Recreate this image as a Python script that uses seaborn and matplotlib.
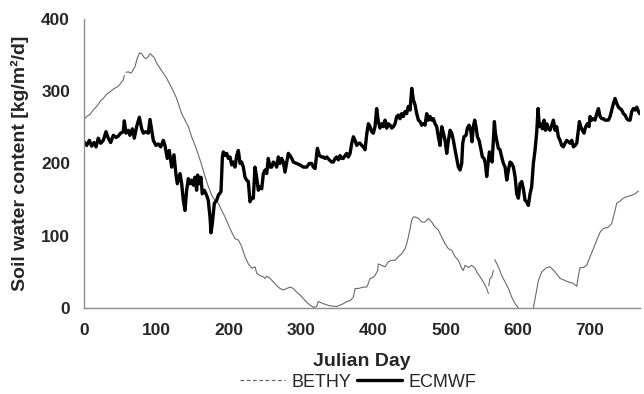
import numpy as np
import pandas as pd
import matplotlib
matplotlib.use("Agg")
import matplotlib.pyplot as plt
import seaborn as sns
from matplotlib.lines import Line2D

# ---------------- data ----------------
ecmwf_day = [0, 3.7, 7.4, 10.6, 13.8, 16.6, 19.8, 23.1, 26.7, 30.4, 33.6, 36.9, 40.6, 44.3,
             47.5, 50.7, 54.4, 55.8, 58.1, 61.3, 63.6, 66.9, 69.6, 72.8, 76.6, 79.8, 82.1, 85.3,
             89, 91.3, 93.6, 95.9, 99.6, 102.8, 106.1, 109.7, 112, 115.2, 118, 121.3, 124.5,
             127.3, 129.1, 132.8, 135.1, 137.4, 139.7, 142, 144.3, 146.6, 148.9, 151.2, 153.5,
             155.8, 157.2, 159.1, 161.8, 163.6, 166.4, 169.6, 171.9, 174.3, 175.7, 177.5, 180.3,
             183.5, 185.8, 189.5, 191.4, 192.7, 195, 197.4, 199.7, 202, 204.3, 206.6, 208.9,
             211.2, 213.5, 215.8, 218.1, 220.4, 222.7, 225, 227.3, 229.6, 232, 234.2, 236.5,
             238.8, 241.1, 243.5, 245.8, 248.1, 250.4, 252.7, 254.9, 257.3, 259.6, 261.9, 264.2,
             266.5, 268.8, 271.1, 273.4, 275.7, 278, 280.4, 282.6, 285, 287.3, 289.6, 294.2,
             298.8, 303.4, 308, 311.7, 315, 317.2, 319.6, 322.8, 325.6, 328.8, 331, 333.3,
             335.7, 339.3, 342.6, 344.9, 347.2, 349.5, 351.8, 354.1, 356.4, 358.7, 361, 363.3,
             365.6, 368, 370.3, 372.6, 374.9, 377.2, 379.5, 381.8, 384.1, 386.4, 388.7, 391,
             393.3, 395.6, 397.9, 400.2, 402.5, 404.8, 407.1, 409.4, 411.8, 414, 416.4, 418.7,
             421, 423.3, 425.6, 427.9, 430.2, 432.5, 434.8, 437.1, 439.4, 441.7, 444, 446.3,
             448.6, 451, 453.3, 455.6, 457.9, 460.2, 462.5, 464.8, 467.1, 469.4, 471.7, 474,
             476.3, 478.6, 480.9, 483.2, 485.5, 487.8, 490.1, 492.5, 494.8, 497.1, 499.4, 501.7,
             504, 506.3, 508.6, 510.9, 513.2, 515.5, 517.8, 520.1, 522.4, 523.8, 525.6, 528.4,
             530.2, 532.6, 534.9, 536.7, 538.5, 540.4, 542.2, 544.1, 546.4, 548.7, 551, 553.3,
             555.1, 557, 558.8, 560.7, 562.5, 564.4, 566.2, 567.6, 569, 570.8, 573.1, 575.4,
             577.7, 580.1, 582.4, 584.7, 587, 589.3, 591.6, 593.9, 596.2, 598.5, 600.8, 603.1,
             605.4, 607.7, 610, 612.3, 614.6, 616.9, 619.2, 621.5, 623.8, 626.2, 628, 629.8,
             631.7, 634, 636.3, 638.2, 640, 642.3, 644.6, 646.9, 649.2, 651.5, 653.8, 656.1,
             658.4, 660.7, 663, 665.3, 667.7, 670, 672.3, 674.6, 676.9, 679.2, 681.5, 683.8,
             685.2, 687, 689.3, 691.6, 693.9, 696.2, 698.5, 699.9, 702.2, 704.5, 706.8, 709.2,
             711.5, 713.8, 716.1, 718.4, 720.7, 723, 725.3, 727.6, 729.9, 732.2, 734.5, 736.8,
             739.1, 741.4, 743.7, 746, 748.3, 750.7, 753, 755.3, 757.6, 759.9, 762.2, 764.5,
             766.8, 768.5]
ecmwf_val = [230, 225, 232, 224, 229, 223, 235, 228, 232, 244, 235, 229, 239, 236,
             238, 242, 244, 259, 242, 246, 239, 248, 235, 251, 264, 248, 242, 244,
             242, 261, 246, 232, 225, 227, 223, 232, 225, 207, 218, 195, 212,
             184, 172, 186, 172, 149, 135, 163, 179, 172, 177, 170, 181,
             163, 184, 172, 181, 158, 163, 156, 149, 126, 104, 117, 145,
             149, 156, 161, 209, 216, 211, 214, 207, 209, 198, 202, 195,
             211, 218, 200, 202, 195, 181, 177, 175, 147, 152, 152, 195,
             181, 163, 168, 165, 186, 191, 186, 207, 195, 195, 202, 200,
             195, 209, 200, 207, 202, 188, 202, 214, 211, 207, 202, 200,
             198, 195, 195, 200, 200, 195, 193, 221, 211, 209, 209, 207,
             209, 205, 202, 202, 207, 209, 205, 211, 207, 207, 211, 214,
             209, 214, 228, 237, 232, 225, 228, 228, 225, 223, 219, 240,
             255, 251, 244, 242, 251, 276, 258, 249, 255, 251, 260, 249,
             255, 253, 249, 251, 255, 265, 267, 262, 269, 265, 272, 269,
             279, 274, 304, 288, 281, 269, 260, 258, 253, 255, 253, 269,
             260, 265, 260, 262, 255, 251, 237, 225, 251, 242, 232, 214,
             232, 246, 242, 232, 219, 207, 195, 191, 200, 228, 237, 239,
             249, 253, 246, 230, 251, 260, 251, 237, 232, 221, 209, 207,
             200, 182, 200, 216, 212, 202, 232, 258, 242, 232, 221, 219,
             209, 200, 195, 177, 191, 202, 200, 195, 182, 158, 152, 172,
             175, 165, 149, 147, 142, 158, 168, 200, 218, 244, 276, 251,
             255, 248, 260, 246, 255, 248, 246, 253, 260, 246, 251, 237,
             232, 225, 223, 228, 232, 230, 228, 232, 223, 225, 228, 246,
             258, 251, 246, 242, 251, 255, 251, 265, 260, 262, 260, 269,
             276, 265, 262, 262, 260, 260, 260, 265, 274, 283, 290, 283,
             278, 276, 274, 269, 267, 262, 260, 260, 272, 276, 274, 278,
             272, 269]

bethy_day = [0, 3.7, 8.3, 12.9, 16.6, 19.8, 23.1, 26.7, 31.4, 36, 40.6, 44.3, 47.5, 50.7,
             54.4, 55.8,
             58.1, 61.3, 63.6, 65.9, 68.2, 70.6, 72.9, 76.6, 79.8, 83, 85.8, 89, 91.3, 93.6,
             96.8, 100.5, 105.1, 109.7, 114.4, 119, 123.6, 128.2, 130.5, 135.1, 139.7, 144.3,
             148.9, 153.6, 158.2, 162.8, 167.4, 172, 176.6, 181.2, 185.8, 190.5, 195.1, 199.7,
             204.3, 208.9, 213.5, 218.1, 222.7, 227.3, 232, 236.6, 238.9, 243.5, 248.1, 250.4,
             252.7, 257.3, 261.9, 266.5, 271.1, 275.7, 280.4, 285, 289.6, 294.2, 298.8, 303.4,
             308, 312.6, 317.2, 321.9, 324, 331, 340, 350, 358.7, 363.3, 368, 372.6, 374.9,
             379.5, 386.4, 391, 393.3, 395.6, 397.9, 402.5, 406.2, 407.1, 411.8, 416.4, 421,
             425.6, 430.2, 434.8, 439.4, 444, 446.3, 448.6, 451, 453.3, 455.6, 457.9, 462.5,
             467.1, 471.7, 476.3, 480.9, 485.5, 490.1, 494.8, 499.4, 504, 508.6, 513.2, 517.8,
             522.4, 524.7, 527, 531.6, 536.2, 540.9, 543.2, 547.8, 552.4, 557, 559.3,
             559.8, 561.6, 563.9, 566.2,
             568.1, 573.1, 577.7, 582.4, 587, 591.6, 596.2, 600.8,
             621.5, 628.5, 633.1, 640, 644.6, 651.5, 658.4, 665.3, 670, 676.9, 681.5, 683.8,
             686.1, 690.7, 695.3, 699.9, 704.5, 709.2, 713.8, 718.4, 725.3, 729.9, 734.5,
             736.8, 741.4, 746, 750.7, 757.6, 762.2, 766.8]
bethy_val = [261, 265, 268, 274, 278, 282, 287, 290, 296, 299, 303, 305, 307, 311,
             316, 322,
             326, 327, 325, 326, 330, 334, 343, 353, 352, 347, 345, 348, 352, 350,
             347, 339, 332, 325, 318, 309, 300, 290, 283, 269, 260, 251,
             237, 225, 212, 198, 182, 168, 156, 149, 145, 135, 126, 115,
             105, 96, 94, 85, 71, 61, 55, 57, 48, 45, 43, 41,
             44, 41, 36, 31, 27, 25, 27, 29, 27, 22, 18, 13,
             8, 4, 1, 2, 9, 6, 3, 2, 6, 9, 10, 15, 27,
             27, 29, 29, 34, 41, 41, 45, 52, 61, 59, 57, 64,
             66, 66, 71, 75, 82, 89, 98, 110, 122, 126, 126, 124,
             119, 119, 124, 119, 112, 108, 98, 89, 82, 80, 71, 66,
             55, 52, 59, 56, 59, 55, 50, 43, 36, 27, 20,
             31, 41, 43, 52,
             67, 57, 45, 36, 27, 15, 6, 0,
             0, 38, 50, 56, 57, 50, 41, 38, 36, 34, 30, 45,
             56, 56, 59, 71, 82, 94, 105, 110, 112, 117, 135,
             145, 148, 152, 154, 156, 158, 162]
# days after which the BETHY line is broken in the reference
bethy_breaks_after = [55.8, 559.3, 566.2, 600.8]

series_names = ["BETHY", "ECMWF"]
x_tick_values = [0, 100, 200, 300, 400, 500, 600, 700]
y_tick_values = [0, 100, 200, 300, 400]
x_label = "Julian Day"
y_label = "Soil water content [kg/m²/d]"

# ---------------- figure ----------------
sns.set_style("white")
plt.rcParams["font.family"] = ["Liberation Sans", "DejaVu Sans"]

fig = plt.figure(figsize=(6.44, 3.94), dpi=100)
ax = fig.add_axes([0.1304, 0.2183, 0.8634, 0.7335])

bd = np.asarray(bethy_day)
seg = np.zeros(len(bd), dtype=int)
for b in bethy_breaks_after:
    seg += (bd > b).astype(int)
df_b = pd.DataFrame({"day": bethy_day, "val": bethy_val, "seg": seg})
df_e = pd.DataFrame({"day": ecmwf_day, "val": ecmwf_val})

sns.lineplot(data=df_b, x="day", y="val", units="seg", estimator=None, sort=False,
             color="#6a6a6a", linewidth=0.8, ax=ax, legend=False)
sns.lineplot(data=df_e, x="day", y="val", estimator=None, sort=False,
             color="black", linewidth=2.4, ax=ax, legend=False,
             solid_joinstyle="round")

ax.set_xlim(0, 769)
ax.set_ylim(0, 400)

spine_col = "#8c8c8c"
for s in ["top", "right"]:
    ax.spines[s].set_visible(False)
for s in ["left", "bottom"]:
    ax.spines[s].set_color(spine_col)
    ax.spines[s].set_linewidth(1.0)

ax.set_xticks(x_tick_values)
ax.set_xticklabels([str(v) for v in x_tick_values], fontsize=12.5, fontweight="bold")
ax.set_xticks(np.arange(0, 769, 31.3), minor=True)
ax.tick_params(axis="x", which="major", length=0, pad=11)
ax.tick_params(axis="x", which="minor", length=5, width=1, color=spine_col, direction="out")

ax.set_yticks(y_tick_values)
ax.set_yticklabels([str(v) for v in y_tick_values], fontsize=12.5, fontweight="bold")
ax.tick_params(axis="y", which="major", length=5, width=1, color=spine_col,
               direction="out", pad=5)

ax.set_xlabel(x_label, fontsize=14, fontweight="bold")
ax.xaxis.set_label_coords(0.5, -0.155)
ax.set_ylabel(y_label, fontsize=14, fontweight="bold")
ax.yaxis.set_label_coords(-0.098, 0.5)

handles = [Line2D([], [], color="#6a6a6a", linewidth=0.9, linestyle=(0, (3, 2))),
           Line2D([], [], color="black", linewidth=2.4)]
fig.legend(handles, series_names, loc="center", bbox_to_anchor=(0.556, 0.03),
           ncol=2, frameon=False, fontsize=13, handlelength=2.5,
           handletextpad=0.35, columnspacing=0.35, borderaxespad=0, borderpad=0)

fig.savefig("out.png", dpi=100)
